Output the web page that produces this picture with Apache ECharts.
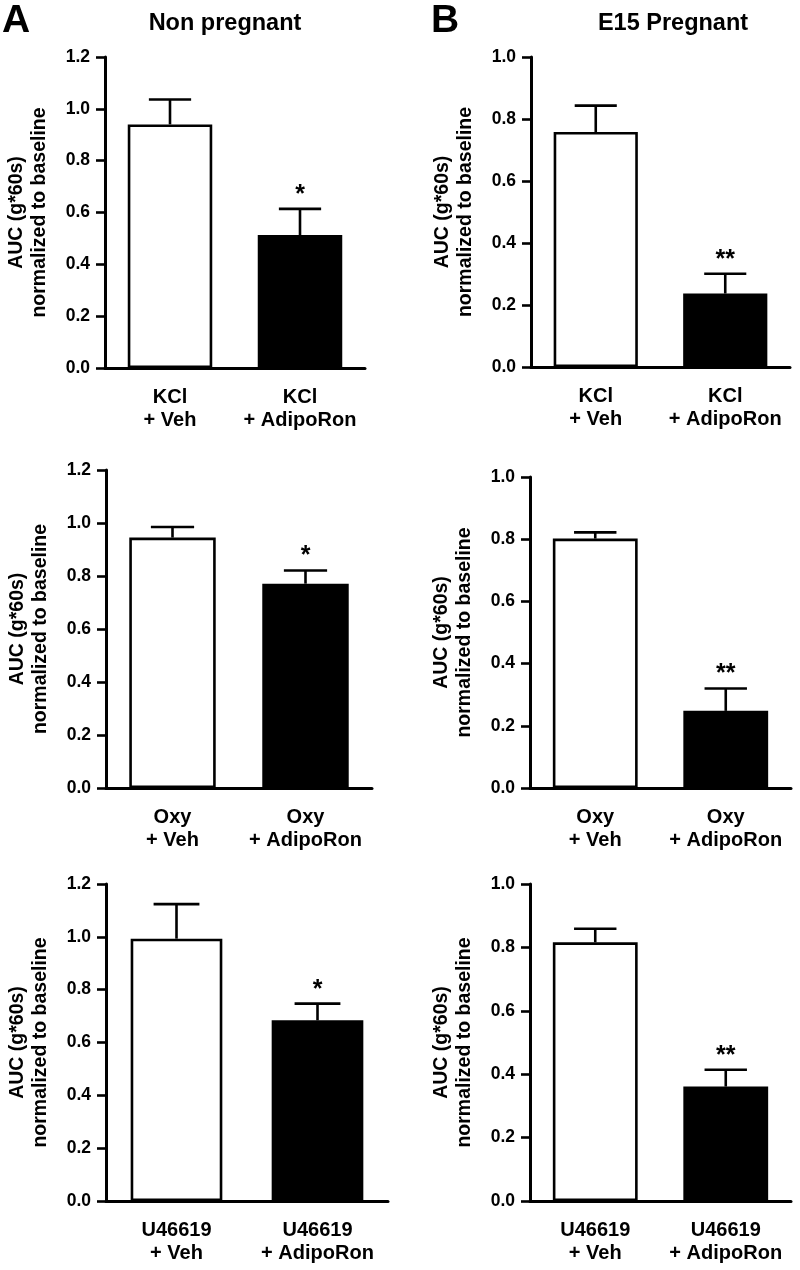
<!DOCTYPE html>
<html>
<head>
<meta charset="utf-8">
<script src="https://cdn.jsdelivr.net/npm/echarts@6/dist/echarts.min.js"></script>
<style>
html,body{margin:0;padding:0;background:#fff;}
#chart{width:800px;height:1270px;}
</style>
</head>
<body>
<div id="chart"></div>
<script>
// ---- Data ----
const columnTitles = ['Non pregnant', 'E15 Pregnant'];
const panelLetters = ['A', 'B'];
const catKCl = ['KCl\n+ Veh', 'KCl\n+ AdipoRon'];
const catOxy = ['Oxy\n+ Veh', 'Oxy\n+ AdipoRon'];
const catU46619 = ['U46619\n+ Veh', 'U46619\n+ AdipoRon'];

// Non pregnant (column A)
const npKClMean = [0.94, 0.513];
const npKClSem = [0.096, 0.101];
const npOxyMean = [0.945, 0.771];
const npOxySem = [0.040, 0.050];
const npUMean = [0.993, 0.684];
const npUSem = [0.131, 0.063];

// E15 Pregnant (column B)
const pgKClMean = [0.758, 0.237];
const pgKClSem = [0.085, 0.064];
const pgOxyMean = [0.802, 0.248];
const pgOxySem = [0.020, 0.072];
const pgUMean = [0.816, 0.361];
const pgUSem = [0.043, 0.053];

const sigNP = ['', '*'];
const sigPG = ['', '**'];

const yTicksA = [0, 0.2, 0.4, 0.6, 0.8, 1.0, 1.2];
const yTicksB = [0, 0.2, 0.4, 0.6, 0.8, 1.0];
const yName = 'AUC (g*60s)\nnormalized to baseline';

// ---- Layout ----
const FONT = "'Liberation Sans', Arial, Helvetica, sans-serif";
const panels = [
  {grid:{left:105, top:57, width:260, height:311}, cats:catKCl, mean:npKClMean, sem:npKClSem, sig:sigNP, ticks:yTicksA},
  {grid:{left:531, top:57, width:259, height:310}, cats:catKCl, mean:pgKClMean, sem:pgKClSem, sig:sigPG, ticks:yTicksB},
  {grid:{left:106, top:470, width:266, height:318}, cats:catOxy, mean:npOxyMean, sem:npOxySem, sig:sigNP, ticks:yTicksA},
  {grid:{left:530, top:477, width:261, height:311}, cats:catOxy, mean:pgOxyMean, sem:pgOxySem, sig:sigPG, ticks:yTicksB},
  {grid:{left:106, top:884, width:282, height:317}, cats:catU46619, mean:npUMean, sem:npUSem, sig:sigNP, ticks:yTicksA},
  {grid:{left:530, top:884, width:261, height:317}, cats:catU46619, mean:pgUMean, sem:pgUSem, sig:sigPG, ticks:yTicksB}
];

const grids = [], xAxes = [], yAxes = [], series = [];
const BAR_FRAC = 0.65;
const LW = 2.6;

panels.forEach((p, i) => {
  grids.push(p.grid);
  xAxes.push({
    type: 'category', gridIndex: i, data: p.cats,
    axisLine: {lineStyle: {color: '#000', width: 3}},
    axisTick: {alignWithLabel: true, length: 8, lineStyle: {color: '#000', width: 2.6}},
    axisLabel: {interval: 0, color: '#000', fontFamily: FONT, fontWeight: 'bold', fontSize: 20, lineHeight: 23, margin: 18}
  });
  const ymax = p.ticks[p.ticks.length - 1];
  yAxes.push({
    type: 'value', gridIndex: i, min: 0, max: ymax, interval: 0.2,
    name: yName, nameLocation: 'middle', nameGap: 54,
    nameTextStyle: {color: '#000', fontFamily: FONT, fontWeight: 'bold', fontSize: 19.5, lineHeight: 23},
    splitLine: {show: false},
    axisLine: {show: true, lineStyle: {color: '#000', width: 3}},
    axisTick: {show: true, length: 9, lineStyle: {color: '#000', width: 2.6}},
    axisLabel: {color: '#000', fontFamily: FONT, fontWeight: 'bold', fontSize: 17.5, margin: 15,
      formatter: v => v.toFixed(1)}
  });
  series.push({
    type: 'bar', xAxisIndex: i, yAxisIndex: i, barWidth: (BAR_FRAC * 100) + '%',
    data: p.mean.map((m, k) => ({value: m, itemStyle: {color: k === 0 ? '#fff' : '#000', borderColor: '#000', borderWidth: LW}})),
    animation: false, z: 2
  });
  const sig = p.sig;
  series.push({
    type: 'custom', xAxisIndex: i, yAxisIndex: i, z: 5, animation: false,
    data: p.mean.map((m, k) => [k, m, p.sem[k]]),
    renderItem: function (params, api) {
      const k = api.value(0), m = api.value(1), s = api.value(2);
      const base = api.coord([k, m]);
      const top = api.coord([k, m + s]);
      const band = api.size([1, 0])[0];
      const half = band * BAR_FRAC * 0.25;
      const st = {stroke: '#000', lineWidth: LW};
      const children = [
        {type: 'line', shape: {x1: top[0], y1: base[1], x2: top[0], y2: top[1]}, style: st},
        {type: 'line', shape: {x1: top[0] - half, y1: top[1], x2: top[0] + half, y2: top[1]}, style: st}
      ];
      const t = sig[params.dataIndex];
      if (t) {
        children.push({type: 'text', x: top[0], y: top[1] - 14,
          style: {text: t, fill: '#000', font: 'bold 25px ' + FONT, align: 'center', verticalAlign: 'middle'}});
      }
      return {type: 'group', children: children};
    }
  });
});

const graphics = [
  {type: 'text', left: 2, top: 2, style: {text: panelLetters[0], font: 'bold 39px ' + FONT, fill: '#000'}},
  {type: 'text', left: 431, top: 2, style: {text: panelLetters[1], font: 'bold 39px ' + FONT, fill: '#000'}},
  {type: 'text', x: 225, y: 24, style: {text: columnTitles[0], font: 'bold 23.5px ' + FONT, fill: '#000', align: 'center', verticalAlign: 'middle'}},
  {type: 'text', x: 673, y: 24, style: {text: columnTitles[1], font: 'bold 23.5px ' + FONT, fill: '#000', align: 'center', verticalAlign: 'middle'}}
];

const chart = echarts.init(document.getElementById('chart'), null, {renderer: 'canvas'});
chart.setOption({
  backgroundColor: '#fff',
  animation: false,
  grid: grids,
  xAxis: xAxes,
  yAxis: yAxes,
  series: series,
  graphic: graphics
});
</script>
</body>
</html>
